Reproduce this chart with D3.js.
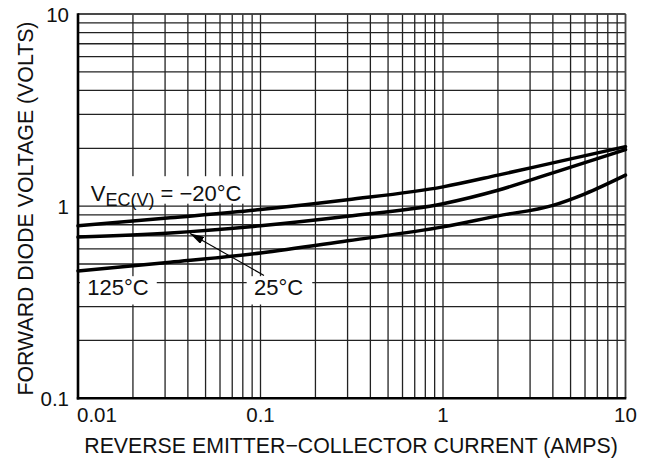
<!DOCTYPE html>
<html>
<head>
<meta charset="utf-8">
<script src="https://cdn.jsdelivr.net/npm/d3@7"></script>
<style>
  html, body { margin: 0; padding: 0; background: #fff; }
  svg text { font-family: "Liberation Sans", Arial, Helvetica, sans-serif; fill: #111; }
</style>
</head>
<body>
<svg id="chart" width="650" height="460"></svg>
<script>
// ---- data ----
const currentMinus20 = [0.01, 0.032, 0.1, 0.3, 1, 2, 4, 10];
const voltsMinus20   = [0.79, 0.87, 0.96, 1.08, 1.26, 1.45, 1.68, 2.04];
const current25      = [0.01, 0.032, 0.1, 0.3, 1, 2, 4, 10];
const volts25        = [0.69, 0.725, 0.79, 0.885, 1.03, 1.21, 1.49, 1.97];
const current125     = [0.01, 0.032, 0.1, 0.3, 1, 2, 4, 6, 10];
const volts125       = [0.46, 0.51, 0.57, 0.66, 0.78, 0.89, 1.01, 1.16, 1.45];
const xTickValues = [0.01, 0.1, 1, 10];
const xTickLabels = ["0.01", "0.1", "1", "10"];
const yTickValues = [0.1, 1, 10];
const yTickLabels = ["0.1", "1", "10"];
const xTitle = "REVERSE EMITTER\u2212COLLECTOR CURRENT (AMPS)";
const yTitle = "FORWARD DIODE VOLTAGE (VOLTS)";

const svg = d3.select("#chart");
const pL = 78, pR = 625.5, pT = 14, pB = 398.3;
const x = d3.scaleLog().domain([0.01, 10]).range([pL, pR]);
const y = d3.scaleLog().domain([0.1, 10]).range([pB, pT]);

// grid values 1..9 x 10^k
function gridVals(lo, hi) {
  const out = [];
  for (let e = Math.round(Math.log10(lo)); e < Math.round(Math.log10(hi)); e++) {
    for (let m = 1; m <= 9; m++) out.push(m * Math.pow(10, e));
  }
  out.push(hi);
  return out;
}
const grid = svg.append("g");
grid.selectAll("line.v").data(gridVals(0.01, 10)).enter().append("line")
  .attr("x1", d => x(d)).attr("x2", d => x(d)).attr("y1", pT).attr("y2", pB)
  .attr("stroke", "#222").attr("stroke-width", 1.3);
grid.selectAll("line.h").data(gridVals(0.1, 10)).enter().append("line")
  .attr("y1", d => y(d)).attr("y2", d => y(d)).attr("x1", pL).attr("x2", pR)
  .attr("stroke", "#222").attr("stroke-width", 1.3);

// frame
svg.append("line").attr("x1", pL).attr("x2", pR).attr("y1", pT).attr("y2", pT)
  .attr("stroke", "#444").attr("stroke-width", 1.6);
svg.append("line").attr("x1", pR).attr("x2", pR).attr("y1", pT).attr("y2", pB)
  .attr("stroke", "#444").attr("stroke-width", 1.6);
svg.append("line").attr("x1", pL).attr("x2", pL).attr("y1", pT - 0.8).attr("y2", pB + 1.2)
  .attr("stroke", "#000").attr("stroke-width", 2.6);
svg.append("line").attr("x1", pL - 1.2).attr("x2", pR + 0.8).attr("y1", pB).attr("y2", pB)
  .attr("stroke", "#000").attr("stroke-width", 2.6);

// curves
const line = d3.line().x(d => x(d[0])).y(d => y(d[1])).curve(d3.curveMonotoneX);
[[currentMinus20, voltsMinus20], [current25, volts25], [current125, volts125]].forEach(([xs, ys]) => {
  svg.append("path").datum(xs.map((v, i) => [v, ys[i]]))
    .attr("d", line).attr("fill", "none").attr("stroke", "#000")
    .attr("stroke-width", 3.5).attr("stroke-linecap", "round");
});

// annotation labels with white boxes
function boxedLabel(ax, ay, padL, padR, upAbove, downBelow, build) {
  const g = svg.append("g");
  const rect = g.append("rect").attr("fill", "#fff");
  const t = g.append("text").attr("x", x(ax)).attr("y", y(ay)).style("font-size", "22px");
  build(t);
  const bb = t.node().getBBox();
  rect.attr("x", bb.x - padL).attr("width", bb.width + padL + padR)
    .attr("y", y(ay) - upAbove).attr("height", upAbove + downBelow);
  return g;
}
boxedLabel(0.01174, 1.07, 10.5, 9, 24.3, 3.2, t => {
  t.append("tspan").text("V");
  t.append("tspan").attr("dy", 5.5).style("font-size", "18px").text("EC(V)");
  t.append("tspan").attr("dy", -5.5).text(" = \u221220\u00B0C");
});
boxedLabel(0.01124, 0.344, 7.3, 8, 19, 9.3, t => t.text("125\u00B0C"));
boxedLabel(0.0921, 0.344, 7.3, 9, 19, 9.3, t => t.text("25\u00B0C"));

// arrow from 25°C label to its curve
const defs = svg.append("defs");
defs.append("marker").attr("id", "ah").attr("viewBox", "0 0 14 8")
  .attr("refX", 14).attr("refY", 4).attr("markerWidth", 14).attr("markerHeight", 8)
  .attr("markerUnits", "userSpaceOnUse").attr("orient", "auto")
  .append("path").attr("d", "M0,0 L14,4 L0,8 Z").attr("fill", "#000");
svg.append("line")
  .attr("x1", x(0.1045)).attr("y1", y(0.436))
  .attr("x2", x(0.0411)).attr("y2", y(0.721))
  .attr("stroke", "#000").attr("stroke-width", 1.1).attr("marker-end", "url(#ah)");

// tick labels
svg.selectAll("text.xt").data(xTickValues).enter().append("text")
  .attr("x", (d, i) => i === 0 ? x(d) - 1 : x(d))
  .attr("y", 421.5).attr("text-anchor", (d, i) => i === 0 ? "start" : "middle")
  .style("font-size", "20.5px").text((d, i) => xTickLabels[i]);
svg.selectAll("text.yt").data(yTickValues).enter().append("text")
  .attr("x", 69).attr("y", d => y(d) + 7.5)
  .attr("text-anchor", "end").style("font-size", "20.5px").text((d, i) => yTickLabels[i]);

// axis titles
svg.append("text").attr("x", 351).attr("y", 452.5)
  .attr("text-anchor", "middle").style("font-size", "21.3px").text(xTitle);
svg.append("text").attr("transform", "translate(32.5,208.5) rotate(-90)")
  .attr("text-anchor", "middle").style("font-size", "21.3px").text(yTitle);
</script>
</body>
</html>
